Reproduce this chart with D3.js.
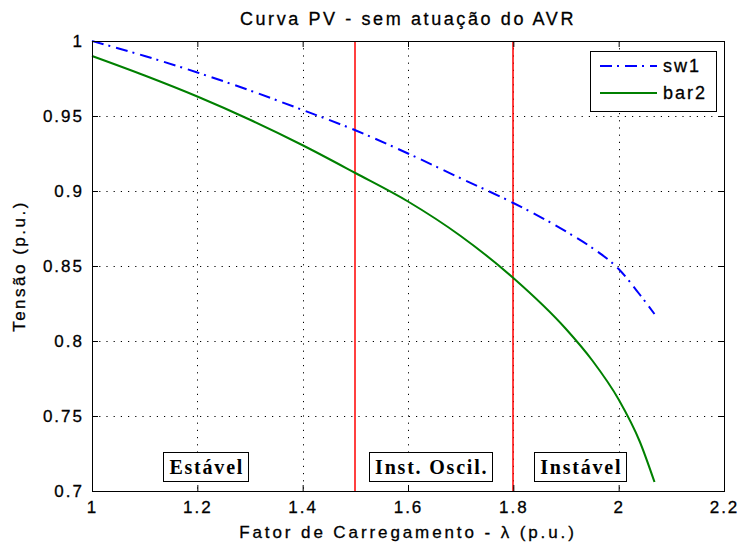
<!DOCTYPE html>
<html>
<head>
<meta charset="utf-8">
<script src="https://cdn.jsdelivr.net/npm/d3@7"></script>
<style>
    body { margin: 0; background: #fff; }
    svg text { font-family: Arial, "Liberation Sans", sans-serif; fill: #000; stroke: #000; stroke-width: 0.3px; }
    .tick text { font-size: 17px; letter-spacing: 2px; }
    .grid line { stroke: #000; stroke-dasharray: 1.2, 6; stroke-width: 1; }
    .note text { font-family: "Liberation Serif", "Times New Roman", serif; font-weight: bold; font-size: 20px; letter-spacing: 1.8px; stroke: none; }
</style>
</head>
<body>
<div id="chart"></div>
<script>
// Curva PV
const lambda = [1.0, 1.1, 1.2, 1.3, 1.4, 1.5, 1.6, 1.7, 1.8, 1.9, 1.95, 2.0, 2.04, 2.068];
const vSw1   = [1.000, 0.990, 0.979, 0.967, 0.954, 0.9405, 0.925, 0.9085, 0.892, 0.873, 0.862, 0.848, 0.831, 0.818];
const vBar2  = [0.990, 0.977, 0.963, 0.9475, 0.9305, 0.912, 0.893, 0.870, 0.842, 0.808, 0.787, 0.761, 0.733, 0.706];

const seriesNames = ['sw1', 'bar2'];
const seriesColors = ['#0000ff', '#008000'];

const xTicks = [1, 1.2, 1.4, 1.6, 1.8, 2, 2.2];
const yTicks = [0.7, 0.75, 0.8, 0.85, 0.9, 0.95, 1];

// limites das regiões
const limits = [1.5, 1.8];
const regions = [
    { label: 'Estável', x: 1.218 },
    { label: 'Inst. Oscil.', x: 1.645 },
    { label: 'Instável', x: 1.929 }
];
const regionV = 0.716;

const W = 742, H = 548;
const margin = { top: 41, right: 18, bottom: 57, left: 92 };
const iw = W - margin.left - margin.right;
const ih = H - margin.top - margin.bottom;

const svg = d3.select('#chart').append('svg')
    .attr('width', W)
    .attr('height', H);

const g = svg.append('g').attr('transform', `translate(${margin.left},${margin.top})`);

const x = d3.scaleLinear().domain([1, 2.2]).range([0, iw]);
const y = d3.scaleLinear().domain([0.7, 1]).range([ih, 0]);

g.append('rect').attr('width', iw).attr('height', ih).attr('fill', '#fff');

// grade pontilhada
const grid = g.append('g').attr('class', 'grid');
grid.selectAll('.gx')
    .data(xTicks.slice(1, -1))
    .join('line')
    .attr('class', 'gx')
    .attr('x1', d => Math.round(x(d)) + 0.5).attr('x2', d => Math.round(x(d)) + 0.5)
    .attr('y1', 0).attr('y2', ih);
grid.selectAll('.gy')
    .data(yTicks.slice(1, -1))
    .join('line')
    .attr('class', 'gy')
    .attr('x1', 0).attr('x2', iw)
    .attr('y1', d => Math.round(y(d)) + 0.5).attr('y2', d => Math.round(y(d)) + 0.5);

// linhas vermelhas de limite
g.selectAll('.limit')
    .data(limits)
    .join('line')
    .attr('class', 'limit')
    .attr('x1', d => Math.round(x(d))).attr('x2', d => Math.round(x(d)))
    .attr('y1', 0).attr('y2', ih)
    .style('stroke', '#ff0000')
    .style('stroke-width', '1.5px');

// curvas
const line = d3.line()
    .x(d => x(d[0]))
    .y(d => y(d[1]))
    .curve(d3.curveMonotoneX);

const series = [vSw1, vBar2];
series.forEach((vals, i) => {
    g.append('path')
        .datum(lambda.map((l, j) => [l, vals[j]]))
        .attr('fill', 'none')
        .attr('stroke', seriesColors[i])
        .attr('stroke-width', 2)
        .attr('stroke-dasharray', i === 0 ? '12,5,2,6' : null)
        .attr('d', line);
});

// caixas de texto das regiões
const notes = g.append('g').attr('class', 'note');
regions.forEach(r => {
    const t = notes.append('text')
        .attr('x', x(r.x))
        .attr('y', y(regionV) + 7)
        .attr('text-anchor', 'middle')
        .text(r.label);
    const bb = t.node().getBBox();
    notes.insert('rect', 'text')
        .attr('x', Math.round(bb.x - 6) + 0.5)
        .attr('y', Math.round(y(regionV) - 15) + 0.5)
        .attr('width', Math.round(bb.width + 10))
        .attr('height', 29)
        .attr('fill', '#fff')
        .attr('stroke', '#000')
        .attr('stroke-width', 1);
});

// eixos (ticks para dentro, caixa fechada)
const fmt = d3.format('');
g.append('g')
    .attr('transform', `translate(0,${ih})`)
    .call(d3.axisBottom(x).tickValues(xTicks).tickFormat(fmt).tickSizeInner(-6).tickSizeOuter(0).tickPadding(10));
g.append('g')
    .call(d3.axisTop(x).tickValues(xTicks).tickFormat('').tickSizeInner(-6).tickSizeOuter(0));
g.append('g')
    .call(d3.axisLeft(y).tickValues(yTicks).tickFormat(fmt).tickSizeInner(-6).tickSizeOuter(0).tickPadding(8));
g.append('g')
    .attr('transform', `translate(${iw},0)`)
    .call(d3.axisRight(y).tickValues(yTicks).tickFormat('').tickSizeInner(-6).tickSizeOuter(0));
g.selectAll('.domain').attr('stroke', '#000');
g.selectAll('.tick line').attr('stroke', '#000');

g.append('rect')
    .attr('x', 0.5).attr('y', 0.5)
    .attr('width', iw).attr('height', ih)
    .attr('fill', 'none').attr('stroke', '#000');

// legenda
const leg = g.append('g').attr('transform', `translate(${590 - margin.left},${51 - margin.top})`);
leg.append('rect')
    .attr('x', 0.5).attr('y', 0.5)
    .attr('width', 126).attr('height', 60)
    .attr('fill', '#fff').attr('stroke', '#000');
seriesNames.forEach((name, i) => {
    const ly = 15 + i * 27;
    leg.append('line')
        .attr('x1', 10).attr('x2', 67)
        .attr('y1', ly).attr('y2', ly)
        .attr('stroke', seriesColors[i])
        .attr('stroke-width', 2)
        .attr('stroke-dasharray', i === 0 ? '12,5,2,6' : null);
    leg.append('text')
        .attr('x', 73).attr('y', ly + 6)
        .attr('font-size', 18)
        .attr('letter-spacing', '2px')
        .text(name);
});

// títulos
svg.append('text')
    .attr('x', margin.left + iw / 2)
    .attr('y', 25)
    .attr('text-anchor', 'middle')
    .attr('font-size', 18)
    .attr('letter-spacing', '2.6px')
    .text('Curva PV - sem atuação do AVR');

svg.append('text')
    .attr('x', margin.left + iw / 2)
    .attr('y', 538)
    .attr('text-anchor', 'middle')
    .attr('font-size', 17)
    .attr('letter-spacing', '2.9px')
    .text('Fator de Carregamento - λ (p.u.)');

svg.append('text')
    .attr('transform', `translate(25,${margin.top + ih / 2}) rotate(-90)`)
    .attr('text-anchor', 'middle')
    .attr('font-size', 17)
    .attr('letter-spacing', '2.5px')
    .text('Tensão (p.u.)');
</script>
</body>
</html>
